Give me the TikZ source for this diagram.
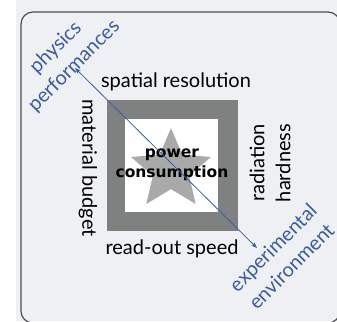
\documentclass[tikz,border=0pt]{standalone}
\usepackage{fontspec}
\setmainfont{Lato}
\newfontfamily\heavyfont{DejaVu Sans}
\usetikzlibrary{shapes.geometric}
\usetikzlibrary{arrows.meta}
\definecolor{bgray}{HTML}{EEF0F3}
\definecolor{fgray}{HTML}{7E817F}
\definecolor{sgray}{HTML}{A9A9A9}
\definecolor{lblue}{HTML}{3A5BA8}
\tikzset{lab/.style = {font=\fontsize{20}{26}\selectfont, text=black, inner sep=0, align=center}}
\tikzset{blab/.style = {font=\fontsize{20}{26}\selectfont, text=lblue, inner sep=0, align=center, rotate=45}}
\tikzset{boldlab/.style = {font=\heavyfont\fontsize{15.5}{20}\selectfont\bfseries, text=black, inner sep=0, align=center}}

\begin{document}
\begin{tikzpicture}[x=1pt, y=-1pt]
    \useasboundingbox (0, 0) rectangle (337, 321);
    \fill [bgray] (16, 0) rectangle (337, 321);
    \draw [line width=1.2pt, black!70, rounded corners=12pt] (21, 12) -- (340, 12) -- (340, 323) -- (21, 323) -- cycle;

    \fill [fgray] (107, 100) rectangle (238, 231);
    \fill [white] (125, 119) rectangle (218, 212);
    \node [star, star points=5, star point ratio=2.2, fill=sgray, minimum size=84pt, inner sep=0] (star) at (171, 170) {};
    \node [boldlab] (power) at (172, 165) {power\\consumption};

    \node [lab] (spatial) at (176, 82) {spatial resolution};
    \node [lab, rotate=-90] (budget) at (88, 168) {material budget};
    \node [lab, rotate=90] (radiation) at (270, 163) {radiation\\hardness};
    \node [lab] (readout) at (172, 249) {read-out speed};

    \node [blab] (physics) at (65, 57) {physics\\performances};
    \node [blab] (environment) at (282, 257) {experimental\\environment};

    \coordinate (pp) at (75, 68);
    \coordinate (ee) at (257, 248);
    \draw [lblue, line width=0.8pt, {Stealth[length=6pt]}-{Stealth[length=6pt]}] (pp) -- (ee);
\end{tikzpicture}
\end{document}
